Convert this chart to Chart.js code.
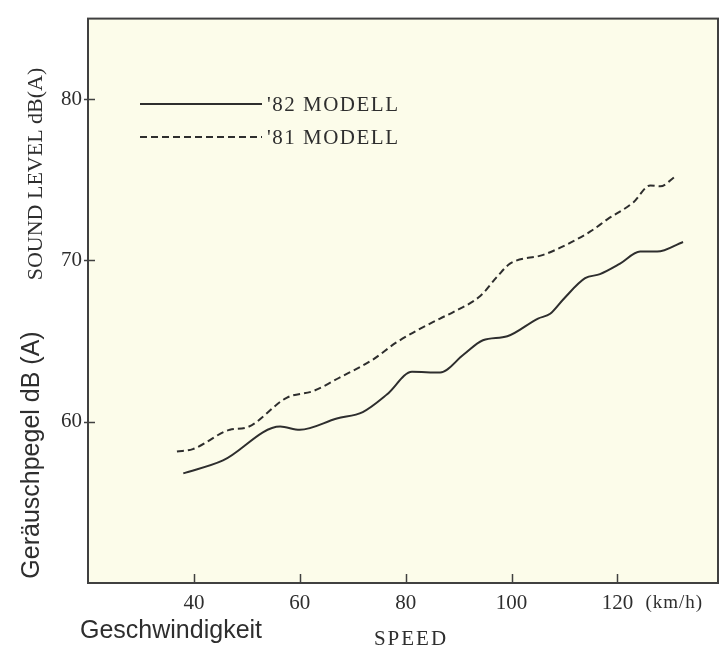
<!DOCTYPE html>
<html>
<head>
<meta charset="utf-8">
<script src="https://cdn.jsdelivr.net/npm/chart.js@4"></script>
<style>
  body { margin: 0; background: #ffffff; }
  canvas { display: block; }
</style>
</head>
<body>
<canvas id="noise-chart" width="720" height="648"></canvas>
<script>
// values
const xTicks = [40, 60, 80, 100, 120];
const yTicks = [60, 70, 80];

const speed82 = [38, 45.5, 56.3, 60, 67, 71.9, 76.5, 81.2, 86.5, 90.9, 94.6, 99.2, 105, 107.3, 109.8, 113.9, 116.7, 120.5, 124.3, 127.5, 132.4];
const level82 = [56.8, 57.6, 59.7, 59.5, 60.2, 60.6, 61.7, 63.1, 63.05, 64.15, 65.05, 65.3, 66.4, 66.7, 67.6, 68.9, 69.15, 69.8, 70.55, 70.55, 71.15];

const speed81 = [36.8, 39.8, 46.8, 50, 57.6, 62.5, 67.6, 73.8, 78.4, 86.5, 89, 94.1, 97.3, 99.7, 106, 110.5, 114.9, 118.1, 123, 126.2, 128.1, 130.9];
const level81 = [58.15, 58.3, 59.5, 59.65, 61.5, 61.9, 62.75, 63.85, 64.95, 66.4, 66.8, 67.8, 69.0, 69.8, 70.35, 71.0, 71.8, 72.55, 73.6, 74.65, 74.6, 75.2];

const ink = '#2e2e2e';
const serif = '"Liberation Serif", "DejaVu Serif", serif';
const sans = '"Liberation Sans", Arial, sans-serif';

// paper colour, frame, inside ticks, axis titles and the legend inside the plot
const paperPlugin = {
    id: 'paper',
    beforeDraw(chart) {
        const ctx = chart.ctx;
        const a = chart.chartArea;
        ctx.save();
        ctx.fillStyle = '#ffffff';
        ctx.fillRect(0, 0, chart.width, chart.height);
        ctx.fillStyle = '#fcfcea';
        ctx.fillRect(a.left, a.top, a.right - a.left, a.bottom - a.top);
        ctx.restore();
    },
    afterDraw(chart) {
        const ctx = chart.ctx;
        const a = chart.chartArea;
        const xs = chart.scales.x;
        const ys = chart.scales.y;
        ctx.save();

        // frame
        ctx.strokeStyle = '#404040';
        ctx.lineWidth = 2;
        ctx.strokeRect(a.left, a.top, a.right - a.left, a.bottom - a.top);

        // tick marks pointing inward
        ctx.lineWidth = 1.5;
        ctx.beginPath();
        xs.ticks.forEach(t => {
            const px = Math.round(xs.getPixelForValue(t.value)) + 0.5;
            ctx.moveTo(px, a.bottom);
            ctx.lineTo(px, a.bottom - 9);
        });
        ys.ticks.forEach(t => {
            const py = Math.round(ys.getPixelForValue(t.value)) + 0.5;
            ctx.moveTo(a.left - 4, py);
            ctx.lineTo(a.left + 7, py);
        });
        ctx.stroke();

        ctx.fillStyle = ink;

        // unit after the last x tick
        ctx.font = '19px ' + serif;
        ctx.textAlign = 'left';
        ctx.textBaseline = 'middle';
        ctx.letterSpacing = '1px';
        ctx.fillText('(km/h)', xs.getPixelForValue(120) + 28, 603);

        // x titles
        ctx.letterSpacing = '0px';
        ctx.font = '25px ' + sans;
        ctx.textBaseline = 'alphabetic';
        ctx.fillText('Geschwindigkeit', 80, 638);
        ctx.font = '21px ' + serif;
        ctx.letterSpacing = '2px';
        ctx.textAlign = 'center';
        ctx.fillText('SPEED', 411, 645);

        // y titles, rotated
        ctx.letterSpacing = '0px';
        ctx.save();
        ctx.translate(39, 455);
        ctx.rotate(-Math.PI / 2);
        ctx.font = '25px ' + sans;
        ctx.fillText('Geräuschpegel dB (A)', 0, 0);
        ctx.restore();
        ctx.save();
        ctx.translate(42, 174);
        ctx.rotate(-Math.PI / 2);
        ctx.font = '22px ' + serif;
        ctx.fillText('SOUND LEVEL dB(A)', 0, 0);
        ctx.restore();

        // legend
        const rows = [104, 137];
        chart.data.datasets.forEach((ds, i) => {
            const y = rows[i];
            ctx.strokeStyle = ds.borderColor;
            ctx.lineWidth = ds.borderWidth;
            ctx.setLineDash(ds.borderDash || []);
            ctx.beginPath();
            ctx.moveTo(140, y);
            ctx.lineTo(262, y);
            ctx.stroke();
            ctx.setLineDash([]);
            ctx.font = '21px ' + serif;
            ctx.letterSpacing = '1.5px';
            ctx.textAlign = 'left';
            ctx.textBaseline = 'middle';
            ctx.fillText(ds.label, 267, y + 1);
        });

        ctx.restore();
    }
};

const ctx = document.getElementById('noise-chart').getContext('2d');

const noiseChart = new Chart(ctx, {
    type: 'line',
    data: {
        datasets: [
            {
                label: "'82 MODELL",
                data: speed82.map((s, i) => ({ x: s, y: level82[i] })),
                borderColor: '#2e2e2e',
                borderWidth: 2,
                pointRadius: 0,
                cubicInterpolationMode: 'monotone',
                fill: false
            },
            {
                label: "'81 MODELL",
                data: speed81.map((s, i) => ({ x: s, y: level81[i] })),
                borderColor: '#2e2e2e',
                borderWidth: 2,
                borderDash: [7, 4],
                pointRadius: 0,
                cubicInterpolationMode: 'monotone',
                fill: false
            }
        ]
    },
    options: {
        responsive: false,
        animation: false,
        layout: {
            padding: { top: 7, right: 2, left: 0, bottom: 0 }
        },
        plugins: {
            legend: { display: false },
            tooltip: { enabled: false }
        },
        scales: {
            x: {
                type: 'linear',
                min: 20,
                max: 139,
                afterBuildTicks: (scale) => { scale.ticks = xTicks.map(v => ({ value: v })); },
                afterFit: (scale) => { scale.height = 65; },
                grid: { display: false, drawTicks: false },
                border: { display: false },
                ticks: {
                    color: ink,
                    font: { family: serif, size: 21 },
                    padding: 8,
                    maxRotation: 0
                }
            },
            y: {
                min: 50,
                max: 85,
                afterBuildTicks: (scale) => { scale.ticks = yTicks.map(v => ({ value: v })); },
                afterFit: (scale) => { scale.width = 88; },
                grid: { display: false, drawTicks: false },
                border: { display: false },
                ticks: {
                    color: ink,
                    font: { family: serif, size: 21 },
                    padding: 6
                }
            }
        }
    },
    plugins: [paperPlugin]
});
</script>
</body>
</html>
